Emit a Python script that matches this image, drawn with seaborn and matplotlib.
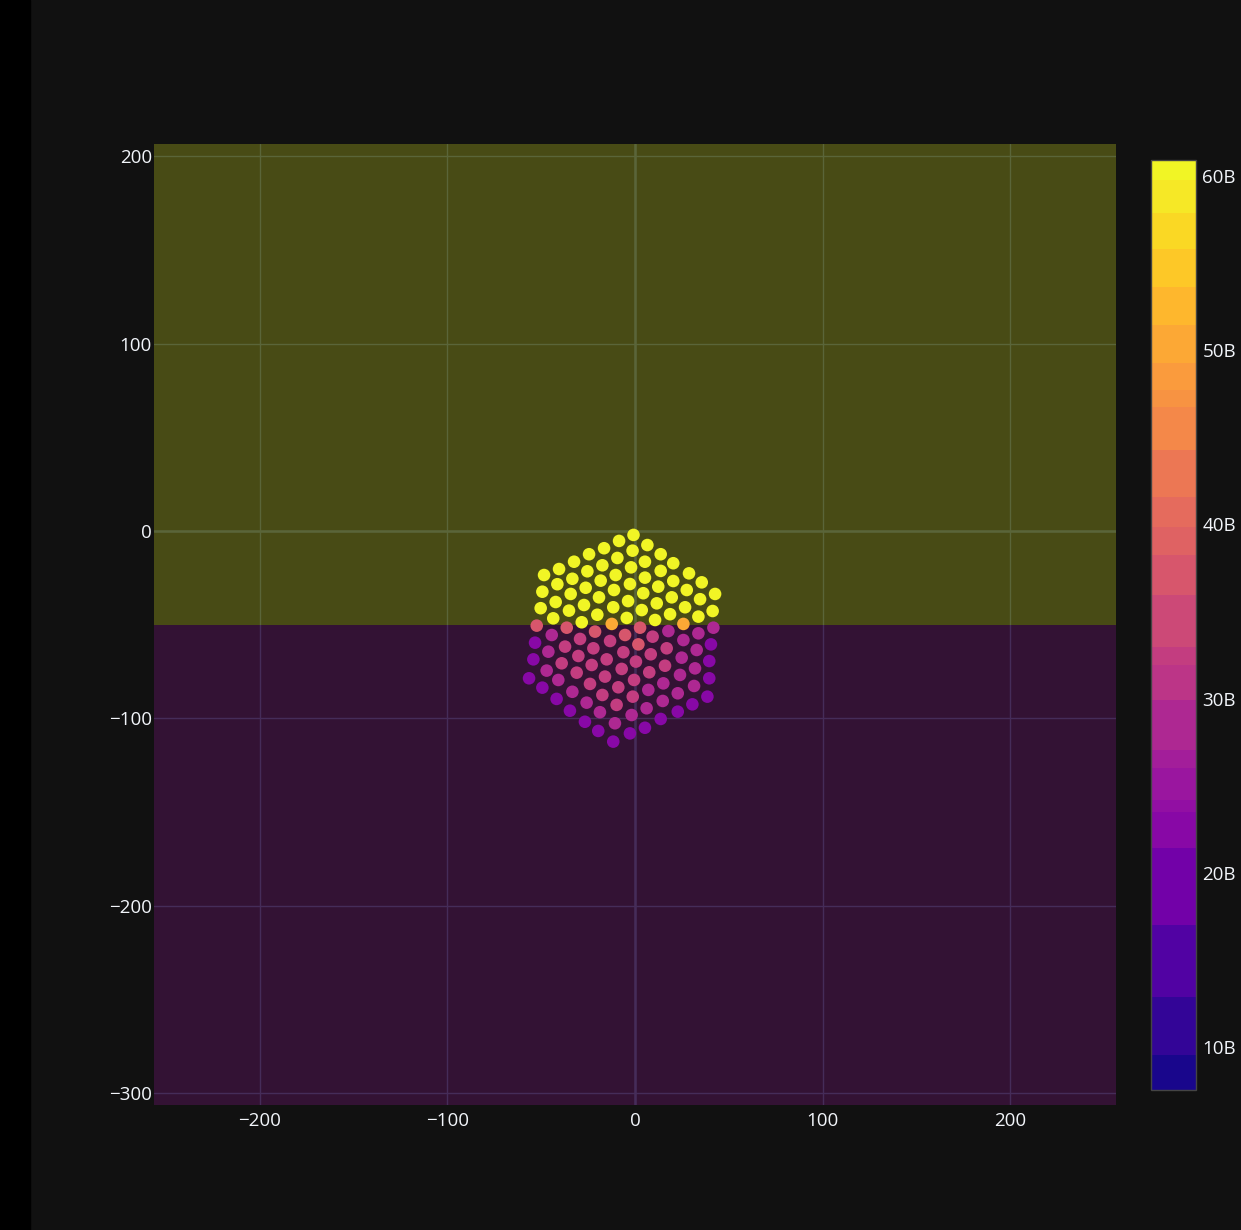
"""
plot.py
=======
Hex-lattice scatter on a dark background, split into two shaded bands
and coloured on a stepped plasma scale (values in billions).
"""

import matplotlib
matplotlib.use("Agg")  # non-interactive backend
import matplotlib.pyplot as plt
from matplotlib.cm import ScalarMappable
from matplotlib.colors import BoundaryNorm, ListedColormap
from matplotlib.patches import Rectangle
import numpy as np
import pandas as pd
import seaborn as sns

# ------------------------------------------------------------------------
#  Data (one line per lattice column)
# ------------------------------------------------------------------------

X_VALUES = [
    -48.5, -49.4, -50.3, -52.4, -53.3, -54.2, -56.5,
    -40.5, -41.4, -42.3, -43.6, -44.4, -46.2, -47.1, -49.4,
    -32.5, -33.4, -34.3, -35.2, -36.4, -37.3, -39.1, -40.9, -41.8,
    -24.5, -25.4, -26.3, -27.2, -28.4, -29.3, -30.2, -31.1, -33.4, -34.7,
    -16.5, -17.4, -18.3, -19.2, -20.1, -21.3, -22.2, -23.1, -24.0, -25.8, -26.7,
    -8.5, -9.4, -10.3, -11.2, -11.6, -12.4, -13.3, -15.1, -16.0, -17.4, -18.7, -19.6,
    -0.8, -1.3, -2.1, -2.7, -3.7, -4.4, -5.3, -6.2, -7.1, -8.9, -9.8, -10.7, -11.6,
    6.6, 5.3, 5.3, 4.4, 3.6, 2.7, 1.8, 0.5, -0.5, -1.2, -1.8, -2.7,
    13.7, 13.7, 12.4, 11.6, 10.7, 9.4, 8.4, 7.6, 7.1, 6.2, 5.3,
    20.4, 20.4, 19.6, 18.7, 17.8, 16.9, 16.0, 15.1, 14.8, 13.7,
    28.8, 27.6, 26.7, 25.8, 25.8, 24.9, 24.0, 22.8, 22.8,
    35.6, 34.7, 33.8, 33.8, 32.9, 32.0, 31.5, 30.6,
    42.7, 41.4, 41.8, 40.5, 39.6, 39.6, 38.6,
]

Y_VALUES = [
    -23.5, -32.4, -41.2, -50.5, -59.6, -68.5, -78.6,
    -20.3, -28.4, -37.9, -46.6, -55.5, -64.4, -74.5, -83.6,
    -16.4, -25.5, -33.6, -42.5, -51.6, -61.7, -70.6, -79.5, -89.6,
    -12.4, -21.5, -30.3, -39.5, -48.7, -57.6, -66.7, -75.6, -85.8, -95.9,
    -9.2, -18.3, -26.5, -35.4, -44.7, -53.7, -62.6, -71.5, -81.6, -91.6, -101.8,
    -5.3, -14.4, -23.5, -31.5, -40.7, -49.6, -58.7, -68.5, -77.7, -87.5, -96.7, -106.7,
    -2.1, -10.5, -19.4, -28.3, -37.4, -46.4, -55.5, -64.7, -73.6, -83.4, -92.8, -102.6, -112.4,
    -7.5, -16.4, -24.9, -33.2, -42.2, -51.6, -60.5, -69.7, -79.5, -88.4, -98.2, -108.0,
    -12.4, -21.3, -29.7, -38.6, -47.5, -56.4, -65.8, -75.4, -84.8, -94.6, -105.0,
    -17.2, -26.7, -35.4, -44.4, -53.4, -62.6, -71.9, -81.3, -90.7, -100.3,
    -22.6, -31.5, -40.7, -49.6, -58.2, -67.6, -76.8, -86.6, -96.4,
    -27.4, -36.4, -45.7, -54.6, -63.5, -73.3, -82.7, -92.5,
    -33.6, -42.7, -51.6, -60.5, -69.4, -78.6, -88.4,
]

# colour value of each point, in billions
Z_VALUES = [
    60.5, 60.5, 60.5, 37.0, 23.0, 23.0, 23.0,
    60.5, 60.5, 60.5, 60.5, 28.5, 28.5, 28.5, 23.0,
    60.5, 60.5, 60.5, 60.5, 37.0, 32.5, 32.5, 28.5, 23.0,
    60.5, 60.5, 60.5, 60.5, 60.5, 32.5, 32.5, 32.5, 28.5, 23.0,
    60.5, 60.5, 60.5, 60.5, 60.5, 37.0, 32.5, 32.5, 32.5, 28.5, 23.0,
    60.5, 60.5, 60.5, 60.5, 60.5, 50.3, 32.5, 32.5, 32.5, 32.5, 28.5, 23.0,
    60.5, 60.5, 60.5, 60.5, 60.5, 60.5, 37.0, 32.5, 32.5, 32.5, 32.5, 28.5, 23.0,
    60.5, 60.5, 60.5, 60.5, 60.5, 37.0, 37.0, 32.5, 32.5, 32.5, 28.5, 23.0,
    60.5, 60.5, 60.5, 60.5, 60.5, 32.5, 32.5, 32.5, 28.5, 28.5, 23.0,
    60.5, 60.5, 60.5, 60.5, 28.5, 32.5, 32.5, 28.5, 28.5, 23.0,
    60.5, 60.5, 60.5, 50.3, 28.5, 28.5, 28.5, 28.5, 23.0,
    60.5, 60.5, 60.5, 28.5, 28.5, 28.5, 28.5, 23.0,
    60.5, 60.5, 28.5, 23.0, 23.0, 23.0, 23.0,
]

# stepped colour bar: band edges in billions
BAND_EDGES = [7.53, 9.54, 12.87, 17.00, 21.42, 23.49, 24.18, 26.02, 27.05,
              29.92, 31.93, 32.96, 35.95, 38.24, 39.85, 41.57, 44.27, 46.74,
              47.72, 49.27, 51.45, 53.63, 55.81, 57.88, 59.77, 60.92]
CBAR_TICKS = [10, 20, 30, 40, 50, 60]
CBAR_LABELS = ["10B", "20B", "30B", "40B", "50B", "60B"]

X_TICKS = [-200, -100, 0, 100, 200]
Y_TICKS = [-300, -200, -100, 0, 100, 200]
X_RANGE = (-256.5, 256.5)
Y_RANGE = (-306.3, 206.5)
SPLIT_Y = -50

# ------------------------------------------------------------------------
#  Style
# ------------------------------------------------------------------------

BG = "#111111"
GRID = "#283442"
TEXT = "#f2f5fa"
UPPER_SHADE = "#f0f921"
LOWER_SHADE = "#9c179e"

sns.set_theme(style="dark", rc={
    "axes.facecolor": BG,
    "figure.facecolor": BG,
    "axes.edgecolor": BG,
    "grid.color": GRID,
})
plt.rcParams["font.family"] = ["Open Sans", "DejaVu Sans"]

# band colours: plasma sampled at each band's midpoint
edges = np.array(BAND_EDGES)
mids = (edges[:-1] + edges[1:]) / 2
band_colors = plt.get_cmap("plasma")((mids - edges[0]) / (edges[-1] - edges[0]))
cmap = ListedColormap(band_colors)
norm = BoundaryNorm(BAND_EDGES, cmap.N)

df = pd.DataFrame({"x": X_VALUES, "y": Y_VALUES, "z": Z_VALUES})
palette = {v: cmap(norm(v)) for v in df["z"].unique()}

# ------------------------------------------------------------------------
#  Figure
# ------------------------------------------------------------------------

W, H = 1241, 1230
fig = plt.figure(figsize=(W / 100, H / 100), dpi=100)
fig.patches.append(Rectangle((0, 0), 30 / W, 1, transform=fig.transFigure,
                             color="black", zorder=0))

ax = fig.add_axes([154 / W, 1 - 1105 / H, (1116 - 154) / W, (1105 - 144) / H])
ax.set_axisbelow(True)
ax.grid(True, color=GRID, linewidth=1.0)
ax.axvline(0, color=GRID, linewidth=1.8, zorder=0.6)
ax.axhline(0, color=GRID, linewidth=1.8, zorder=0.6)

# translucent bands above / below the split
ax.axhspan(SPLIT_Y, Y_RANGE[1], color=UPPER_SHADE, alpha=0.25, lw=0, zorder=1)
ax.axhspan(Y_RANGE[0], SPLIT_Y, color=LOWER_SHADE, alpha=0.25, lw=0, zorder=1)

sns.scatterplot(data=df, x="x", y="y", hue="z", palette=palette, s=82,
                linewidth=0, legend=False, ax=ax, zorder=3)

ax.set_xlim(*X_RANGE)
ax.set_ylim(*Y_RANGE)
ax.set_xticks(X_TICKS)
ax.set_yticks(Y_TICKS)
ax.set_xlabel("")
ax.set_ylabel("")
ax.tick_params(axis="both", length=0, colors=TEXT, labelsize=13.5)
ax.tick_params(axis="x", pad=5)
ax.tick_params(axis="y", pad=1.5)
for s in ax.spines.values():
    s.set_visible(False)

# colour bar
cax = fig.add_axes([1151 / W, 1 - 1090 / H, 45 / W, (1090 - 160) / H])
cb = fig.colorbar(ScalarMappable(norm=norm, cmap=cmap), cax=cax,
                  spacing="proportional", ticks=CBAR_TICKS)
cb.minorticks_off()
cb.ax.set_yticklabels(CBAR_LABELS)
cb.ax.tick_params(which="both", length=0, colors=TEXT, labelsize=13.5, pad=4.5)
cb.outline.set_edgecolor("#444444")
cb.outline.set_linewidth(1.0)

fig.savefig("out.png", dpi=100, facecolor=BG)
plt.close(fig)
print("[OK] Saved -> out.png")
